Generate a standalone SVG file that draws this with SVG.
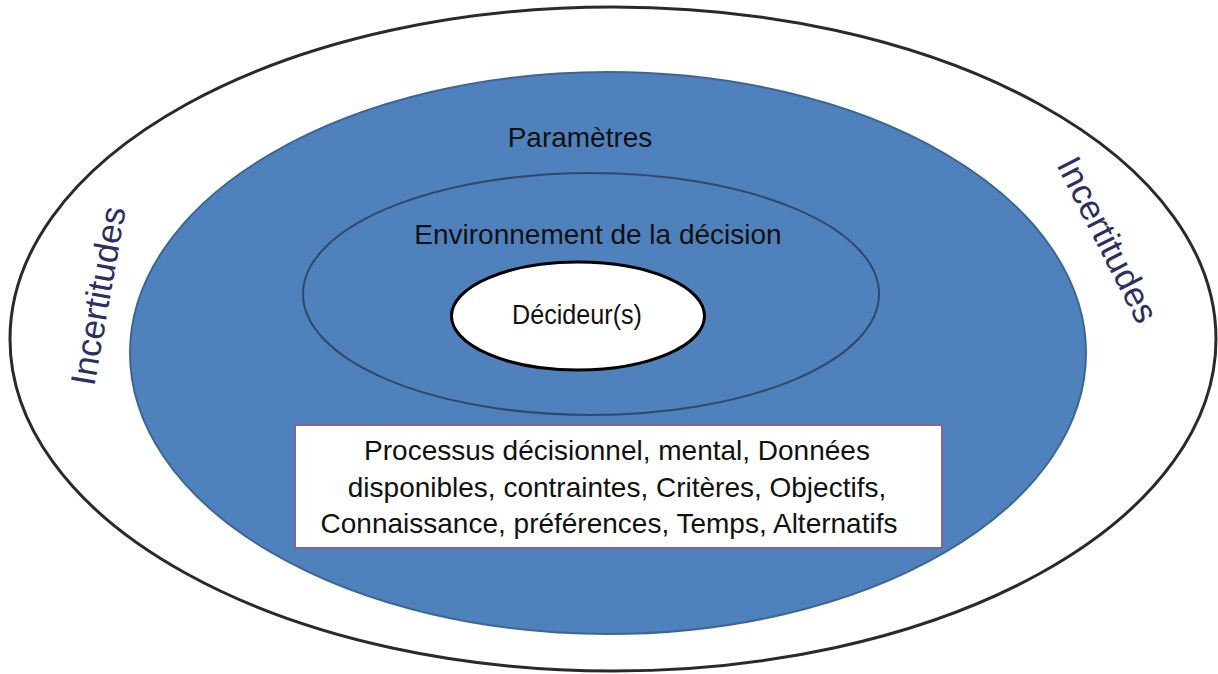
<svg xmlns="http://www.w3.org/2000/svg" width="1218" height="674" viewBox="0 0 1218 674">
  <style>
    .lbl { font-family: "Liberation Sans", Arial, sans-serif; fill: #111111; text-anchor: middle; }
    .unc { font-family: "Liberation Sans", Arial, sans-serif; fill: #2b2f62; text-anchor: middle; font-size: 35px; }
  </style>
  <rect x="0" y="0" width="1218" height="674" fill="#ffffff"/>
  <g id="outer">
    <ellipse cx="613" cy="339" rx="603" ry="332" fill="#ffffff" stroke="#2a2a2a" stroke-width="3"/>
    <text class="unc" x="110" y="298" transform="rotate(-80 110 298)">Incertitudes</text>
    <text class="unc" x="1097" y="245" transform="rotate(63 1097 245)">Incertitudes</text>
  </g>
  <g id="parametres">
    <ellipse cx="608" cy="353" rx="478" ry="281" fill="#4f81bd" stroke="#3c6696" stroke-width="2"/>
    <text class="lbl" x="580" y="147" font-size="28">Paramètres</text>
  </g>
  <g id="environnement">
    <ellipse cx="591" cy="294" rx="288" ry="121" fill="none" stroke="#30496a" stroke-width="2"/>
    <text class="lbl" x="598" y="244" font-size="28">Environnement de la décision</text>
  </g>
  <g id="decideurs">
    <ellipse cx="578" cy="316" rx="126.5" ry="54" fill="#ffffff" stroke="#000000" stroke-width="3"/>
    <text class="lbl" x="577" y="324" font-size="28" textLength="130" lengthAdjust="spacingAndGlyphs">Décideur(s)</text>
  </g>
  <g id="facteurs">
    <rect x="295" y="425" width="647" height="123" fill="#ffffff" stroke="#8064a2" stroke-width="2"/>
    <text class="lbl" x="617" y="460" font-size="28">Processus décisionnel, mental, Données</text>
    <text class="lbl" x="617" y="497" font-size="28">disponibles, contraintes, Critères, Objectifs,</text>
    <text class="lbl" x="609" y="533" font-size="28">Connaissance, préférences, Temps, Alternatifs</text>
  </g>
  <g id="connectors"></g>
</svg>
